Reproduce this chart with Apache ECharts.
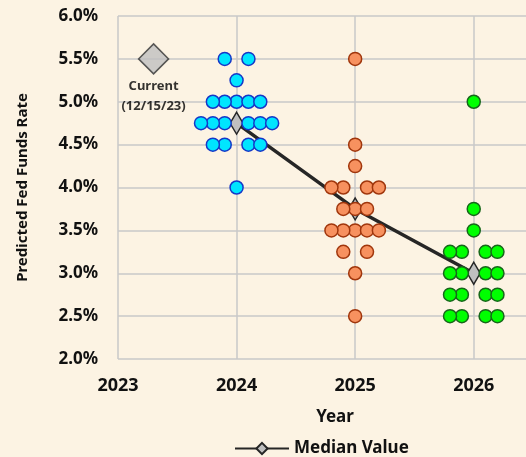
<!DOCTYPE html>
<html>
<head>
<meta charset="utf-8">
<script src="https://cdn.jsdelivr.net/npm/echarts@6/dist/echarts.min.js"></script>
<style>
html, body { margin: 0; padding: 0; background: #fcf3e3; }
#container { width: 526px; height: 457px; }
</style>
</head>
<body>
<div id="container"></div>
<script>
// projection years and FOMC dots (rate levels + how many participants at each)
var years = [2024, 2025, 2026];
var rates2024 = [5.5, 5.25, 5.0, 4.75, 4.5, 4.0];
var counts2024 = [2, 1, 5, 6, 4, 1];
var rates2025 = [5.5, 4.5, 4.25, 4.0, 3.75, 3.5, 3.25, 3.0, 2.5];
var counts2025 = [1, 1, 1, 4, 3, 5, 2, 1, 1];
var rates2026 = [5.0, 3.75, 3.5, 3.25, 3.0, 2.75, 2.5];
var counts2026 = [1, 1, 1, 4, 4, 4, 4];
var medianValues = [4.75, 3.75, 3.0];
var currentYear = 2023.3;
var currentRate = 5.5;
var xTicks = [2023, 2024, 2025, 2026];

var font = '"Noto Sans", sans-serif';
var step = 0.1; // horizontal spacing between side-by-side dots

// spread n dots around the year; even counts leave the centre empty
function buildDots(year, rates, counts) {
	var out = [];
	for (var i = 0; i < rates.length; i++) {
		var n = counts[i];
		var offs = [];
		if (n % 2 === 1) {
			offs.push(0);
			for (var k = 1; k <= (n - 1) / 2; k++) { offs.push(-k * step, k * step); }
		} else {
			for (var k = 1; k <= n / 2; k++) { offs.push(-k * step, k * step); }
		}
		for (var j = 0; j < offs.length; j++) {
			out.push([year + offs[j], rates[i]]);
		}
	}
	return out;
}

var medianData = [];
for (var i = 0; i < years.length; i++) { medianData.push([years[i], medianValues[i]]); }

function dotSeries(data, fill, border) {
	return {
		type: 'scatter',
		data: data,
		symbol: 'circle',
		symbolSize: 13,
		z: 4,
		itemStyle: { color: fill, borderColor: border, borderWidth: 1.5, opacity: 1 },
		emphasis: { disabled: true }
	};
}

var myChart = echarts.init(document.getElementById('container'));
myChart.setOption({
	animation: false,
	backgroundColor: '#fcf3e3',
	textStyle: { fontFamily: font },
	grid: { left: 118, width: 434, top: 16, bottom: 98, outerBoundsMode: 'none' },
	legend: {
		data: ['Median Value'],
		left: 229,
		top: 435,
		itemWidth: 54,
		itemHeight: 14,
		itemGap: 5,
		textStyle: { fontFamily: font, fontWeight: 'bold', fontSize: 17, color: '#111' }
	},
	xAxis: {
		type: 'value',
		min: 2023,
		max: 2026.66,
		interval: 1,
		name: 'Year',
		nameLocation: 'middle',
		nameGap: 50,
		nameTextStyle: { fontFamily: font, fontWeight: 'bold', fontSize: 17, color: '#111' },
		axisLine: { show: false },
		axisTick: { show: false },
		axisLabel: {
			margin: 18,
			showMaxLabel: false,
			fontFamily: font, fontWeight: 'bold', fontSize: 18, color: '#111',
			formatter: function (v) { return xTicks.indexOf(v) >= 0 ? String(v) : ''; }
		},
		splitLine: { show: true, lineStyle: { color: '#c8c8c8', width: 1.5 } }
	},
	yAxis: {
		type: 'value',
		min: 2,
		max: 6,
		interval: 0.5,
		name: 'Predicted Fed Funds Rate',
		nameLocation: 'middle',
		nameGap: 88,
		nameRotate: 90,
		nameTextStyle: { fontFamily: font, fontWeight: 'bold', fontSize: 15, color: '#111' },
		axisLine: { show: false },
		axisTick: { show: false },
		axisLabel: {
			margin: 20,
			fontFamily: font, fontWeight: 'bold', fontSize: 17, color: '#111',
			formatter: function (v) { return v.toFixed(1) + '%'; }
		},
		splitLine: { show: true, lineStyle: { color: '#c8c8c8', width: 1.5 } }
	},
	series: [
		{
			name: 'Median Value',
			type: 'line',
			data: medianData,
			symbol: 'diamond',
			symbolSize: [13, 22],
			z: 3,
			lineStyle: { color: '#262626', width: 3.5 },
			itemStyle: { color: '#bfbfbf', borderColor: '#262626', borderWidth: 1.5 },
			emphasis: { disabled: true }
		},
		dotSeries(buildDots(years[0], rates2024, counts2024), '#00e5ff', '#1537c8'),
		dotSeries(buildDots(years[1], rates2025, counts2025), '#f7915f', '#a0360c'),
		dotSeries(buildDots(years[2], rates2026, counts2026), '#00ff00', '#17661a'),
		{
			type: 'scatter',
			data: [[currentYear, currentRate]],
			symbol: 'diamond',
			symbolSize: [30, 30],
			z: 4,
			itemStyle: { color: '#bfbfbf', borderColor: '#333', borderWidth: 1.5 },
			label: {
				show: true,
				position: 'bottom',
				distance: 2,
				formatter: 'Current\n(12/15/23)',
				fontFamily: font, fontWeight: 'bold', fontSize: 13, lineHeight: 20, color: '#000'
			},
			emphasis: { disabled: true }
		}
	]
});
</script>
</body>
</html>
